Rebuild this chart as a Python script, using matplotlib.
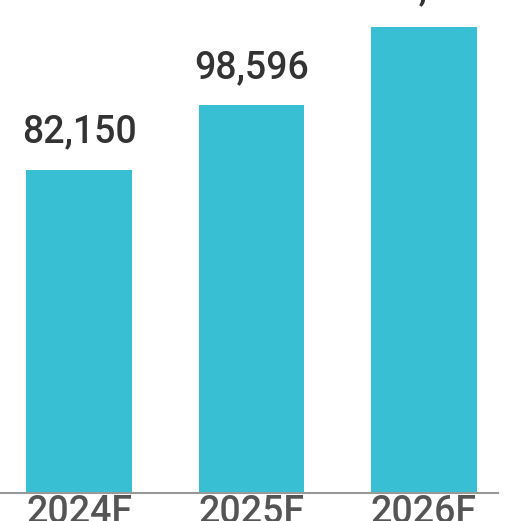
import matplotlib.pyplot as plt

years = ["2024F", "2025F", "2026F"]
values = [82150, 98596, 118500]
value_labels = ["82,150", "98,596", "118,500"]

fig = plt.figure(figsize=(5.16, 5.21), dpi=100)
ax = fig.add_axes([0, 28 / 521, 498 / 516, 493 / 521])

x = range(len(years))
ax.bar(x, values, width=0.61, color="#38bfd3")

for xi, v, lab in zip(x, values, value_labels):
    ax.annotate(lab, (xi, v), xytext=(0, 14), textcoords="offset points",
                ha="center", va="bottom", fontsize=27, fontfamily="Roboto",
                fontweight="medium", color="#333333")

ax.set_xlim(-0.458, 2.429)
ax.set_ylim(0, 82150 * 493 / 323)
ax.set_xticks(list(x))
ax.set_xticklabels(years, fontsize=27, fontfamily="Roboto",
                   fontweight="medium", color="#555555")
ax.tick_params(axis="x", length=0, pad=1)
ax.set_yticks([])
for side in ["top", "right", "left"]:
    ax.spines[side].set_visible(False)
ax.spines["bottom"].set_color("#999999")
ax.spines["bottom"].set_linewidth(1.5)

fig.savefig("out.png", dpi=100)
